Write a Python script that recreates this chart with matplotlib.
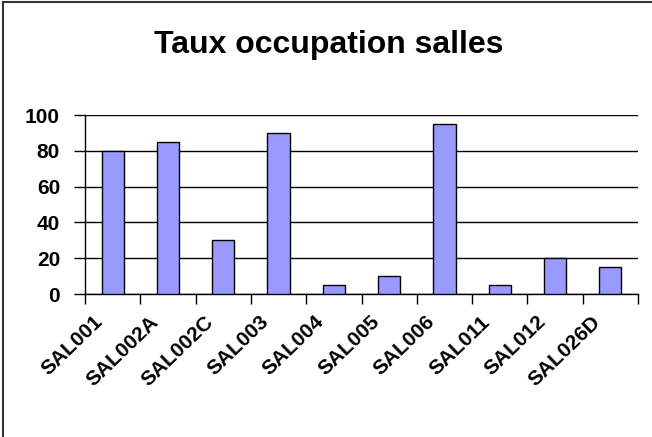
import matplotlib
matplotlib.use("Agg")
import matplotlib.pyplot as plt
import matplotlib.transforms as mtransforms
from matplotlib.lines import Line2D

# data
salles = ["SAL001", "SAL002A", "SAL002C", "SAL003", "SAL004",
          "SAL005", "SAL006", "SAL011", "SAL012", "SAL026D"]
taux = [80, 85, 30, 90, 5, 10, 95, 5, 20, 15]
yticks = [0, 20, 40, 60, 80, 100]

plt.rcParams["font.family"] = ["Liberation Sans", "DejaVu Sans"]

fig = plt.figure(figsize=(6.52, 4.37), dpi=100)
ax = fig.add_axes([0.1304, 0.3272, 0.8481, 0.4096])

x = list(range(len(salles)))
ax.bar(x, taux, width=0.4, color="#9999ff", edgecolor="black", linewidth=1, zorder=3)

ax.set_ylim(0, 100)
ax.set_xlim(-0.5, len(salles) - 0.5)
ax.set_yticks(yticks)
ax.set_yticklabels([str(v) for v in yticks], fontsize=15, fontweight="bold")
ax.yaxis.grid(True, color="black", linewidth=1, zorder=0)

# ticks at category boundaries, labels at centers
ax.set_xticks([i - 0.5 for i in range(len(salles) + 1)])
ax.set_xticklabels([])
ax.set_xticks(x, minor=True)
ax.set_xticklabels(salles, minor=True, rotation=44, ha="right", va="top",
                   fontsize=15, fontweight="bold")
ax.tick_params(axis="x", which="major", direction="out", length=7, width=1)
ax.tick_params(axis="x", which="minor", length=0, pad=13)
ax.tick_params(axis="y", direction="out", length=8, width=1, pad=10)

# nudge the rotated labels a bit to the left
shift = mtransforms.ScaledTranslation(-6 / 100, 0, fig.dpi_scale_trans)
for lab in ax.get_xticklabels(minor=True):
    lab.set_transform(lab.get_transform() + shift)

for s in ["top", "right"]:
    ax.spines[s].set_visible(False)
for s in ["left", "bottom"]:
    ax.spines[s].set_linewidth(1)

fig.text(0.504, 0.897, "Taux occupation salles", ha="center", va="center",
         fontsize=23, fontweight="bold")

# outer frame (left and top visible in the crop)
fig.add_artist(Line2D([0.004, 0.004], [0, 0.996], transform=fig.transFigure,
                      color="#333333", linewidth=1.5))
fig.add_artist(Line2D([0.004, 1], [0.996, 0.996], transform=fig.transFigure,
                      color="#333333", linewidth=1.5))

fig.savefig("out.png", dpi=100)
